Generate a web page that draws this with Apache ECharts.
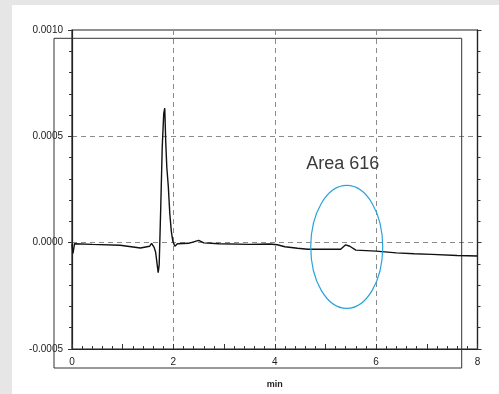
<!DOCTYPE html>
<html>
<head>
<meta charset="utf-8">
<script src="https://cdn.jsdelivr.net/npm/echarts@6/dist/echarts.min.js"></script>
<style>
  html, body { margin: 0; padding: 0; background: #e6e6e6; }
  #chart { width: 499px; height: 394px; }
</style>
</head>
<body>
<div id="chart"></div>
<script>
// retention time (min) and detector signal
const timeMin = [
  0.00, 0.02, 0.05, 0.40, 0.95, 1.35, 1.53, 1.57, 1.62, 1.65,
  1.70, 1.72, 1.75, 1.78, 1.81, 1.83, 1.85, 1.87, 1.90, 1.93,
  1.96, 1.99, 2.03, 2.08, 2.30, 2.50, 2.60, 2.90, 3.50, 3.90,
  4.05, 4.20, 4.45, 4.65, 5.30, 5.40, 5.48, 5.60, 6.00, 6.40,
  6.75, 7.10, 7.60, 8.00
];
const signal = [
  -0.000008, -0.000050, -0.000005, -0.000008, -0.000012, -0.000025, -0.000017, -0.000003, -0.000022, -0.000045,
  -0.000141, -0.000105, 0.000158, 0.000448, 0.000608, 0.000632, 0.000470, 0.000356, 0.000264, 0.000135,
  0.000052, 0.000006, -0.000017, -0.000005, -0.000003, 0.000011, -0.000001, -0.000005, -0.000008, -0.000006,
  -0.000010, -0.000019, -0.000026, -0.000031, -0.000031, -0.000010, -0.000017, -0.000035, -0.000040, -0.000048,
  -0.000052, -0.000055, -0.000060, -0.000063
];
const xLabels = [0, 2, 4, 6, 8];
const yTicks = [-0.0005, 0.0000, 0.0005, 0.0010];

// highlighted peak region (data coords)
const areaLabel = "Area 616";
const areaCenter = [5.42, -0.00002];
const areaHalfSize = [0.71, 0.000289];

const chart = echarts.init(document.getElementById("chart"));
const labelFont = { fontFamily: "Liberation Sans, Arial, sans-serif", fontSize: 10, color: "#222" };
const gridDash = { color: "#8a8a8a", type: [5, 4], width: 1 };

const option = {
  animation: false,
  grid: {
    left: 72, top: 30, right: 21.5, bottom: 38.3,
    show: true, borderColor: "#222", borderWidth: 1.2, backgroundColor: "transparent",
  },
  xAxis: [
    {
      type: "value", min: 0, max: 8, interval: 1, position: "bottom",
      name: "min", nameLocation: "middle", nameGap: 31,
      nameTextStyle: { fontFamily: "Liberation Sans, Arial, sans-serif", fontSize: 9, fontWeight: "bold", color: "#222" },
      axisLine: { show: true, onZero: false, lineStyle: { color: "#222", width: 1.2 } },
      axisTick: { show: true, inside: true, length: 5, lineStyle: { color: "#333" } },
      minorTick: { show: true, splitNumber: 5, length: 3, lineStyle: { color: "#333" } },
      axisLabel: {
        ...labelFont, margin: 8,
        formatter: (v) => (xLabels.includes(v) ? String(v) : ""),
      },
      splitLine: { show: false },
    },
    {
      type: "value", min: 0, max: 8, interval: 2, position: "top",
      axisLine: { show: false, onZero: false }, axisTick: { show: false }, axisLabel: { show: false },
      splitLine: { show: true, showMinLine: false, showMaxLine: false, lineStyle: gridDash },
    },
  ],
  yAxis: [
    {
      type: "value", min: yTicks[0], max: yTicks[yTicks.length - 1], interval: 0.0005, position: "left",
      axisLine: { show: true, onZero: false, lineStyle: { color: "#222", width: 1.2 } },
      axisTick: { show: true, inside: false, length: 4, lineStyle: { color: "#333" } },
      minorTick: { show: true, splitNumber: 5, length: 3, lineStyle: { color: "#333" } },
      axisLabel: { ...labelFont, margin: 9, formatter: (v) => v.toFixed(4) },
      splitLine: { show: true, showMinLine: false, showMaxLine: false, lineStyle: gridDash },
    },
    {
      type: "value", min: yTicks[0], max: yTicks[yTicks.length - 1], interval: 0.0005, position: "right",
      axisLine: { show: true, onZero: false, lineStyle: { color: "#222", width: 1.2 } },
      axisTick: { show: true, inside: false, length: 4, lineStyle: { color: "#333" } },
      minorTick: { show: true, splitNumber: 5, length: 3, lineStyle: { color: "#333" } },
      axisLabel: { show: false },
      splitLine: { show: false },
    },
  ],
  series: [
    {
      type: "line",
      data: timeMin.map((t, i) => [t, signal[i]]),
      showSymbol: false,
      lineStyle: { color: "#111", width: 1.4 },
      z: 3,
    },
  ],
};
chart.setOption(option);

// background panel, shifted scan frame, and the annotation ellipse
const c = chart.convertToPixel({ xAxisIndex: 0, yAxisIndex: 0 }, areaCenter);
const corner = chart.convertToPixel({ xAxisIndex: 0, yAxisIndex: 0 },
  [areaCenter[0] + areaHalfSize[0], areaCenter[1] + areaHalfSize[1]]);
const rx = corner[0] - c[0];
const ry = c[1] - corner[1];

chart.setOption({
  graphic: [
    { type: "rect", z: -10, silent: true, shape: { x: 12, y: 5, width: 487, height: 389 }, style: { fill: "#fff" } },
    { type: "rect", z: 1, silent: true, shape: { x: 54, y: 38.3, width: 407.7, height: 329.7 },
      style: { fill: "none", stroke: "#333", lineWidth: 1 } },
    { type: "ellipse", z: 10, silent: true, shape: { cx: c[0], cy: c[1], rx: rx, ry: ry },
      style: { fill: "none", stroke: "#2aa2dc", lineWidth: 1.2 } },
    { type: "text", z: 10, silent: true, x: c[0] - 4, y: c[1] - ry - 21,
      style: { text: areaLabel, fill: "#3a3a3a", font: "18px Liberation Sans, Arial, sans-serif",
        align: "center", verticalAlign: "middle" } },
  ],
});
</script>
</body>
</html>
